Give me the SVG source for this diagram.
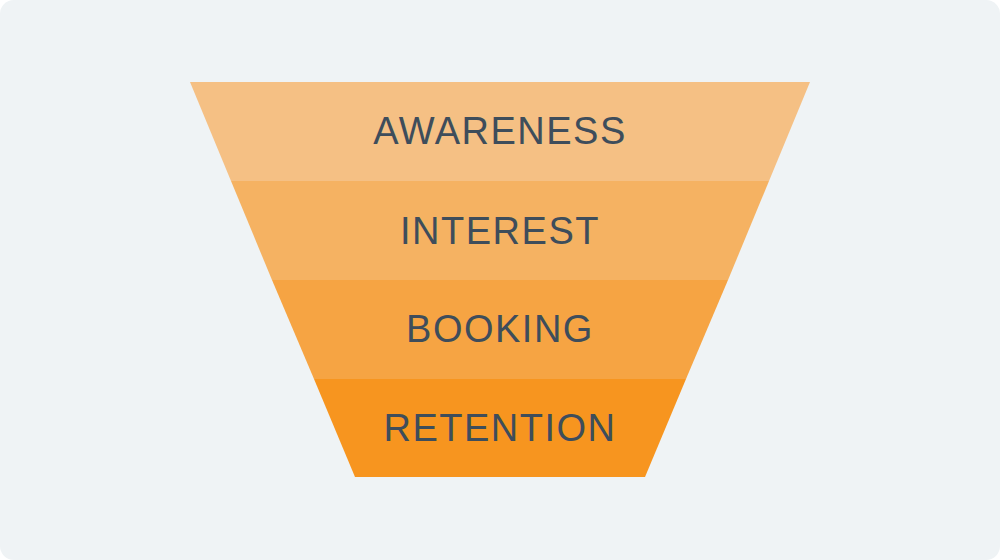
<svg xmlns="http://www.w3.org/2000/svg" width="1000" height="560" viewBox="0 0 1000 560">
<style>
.t{font-family:"Liberation Sans",Arial,sans-serif;font-size:38px;fill:#3E4D5B;text-anchor:middle;letter-spacing:1.5px}
</style>
<rect x="0" y="0" width="1000" height="560" rx="14" fill="#EFF3F5"/>
<g id="awareness"><polygon points="190,82 810,82 769,181 231,181" fill="#F5C084"/><text class="t" x="500" y="144">AWARENESS</text></g>
<g id="interest"><polygon points="231,181 769,181 728,280 272,280" fill="#F5B262"/><text class="t" x="500" y="244">INTEREST</text></g>
<g id="booking"><polygon points="272,280 728,280 686,379 314,379" fill="#F6A443"/><text class="t" x="500" y="342">BOOKING</text></g>
<g id="retention"><polygon points="314,379 686,379 645,477 355,477" fill="#F7951F"/><text class="t" x="500" y="441">RETENTION</text></g>
<g id="connectors"/>
</svg>
